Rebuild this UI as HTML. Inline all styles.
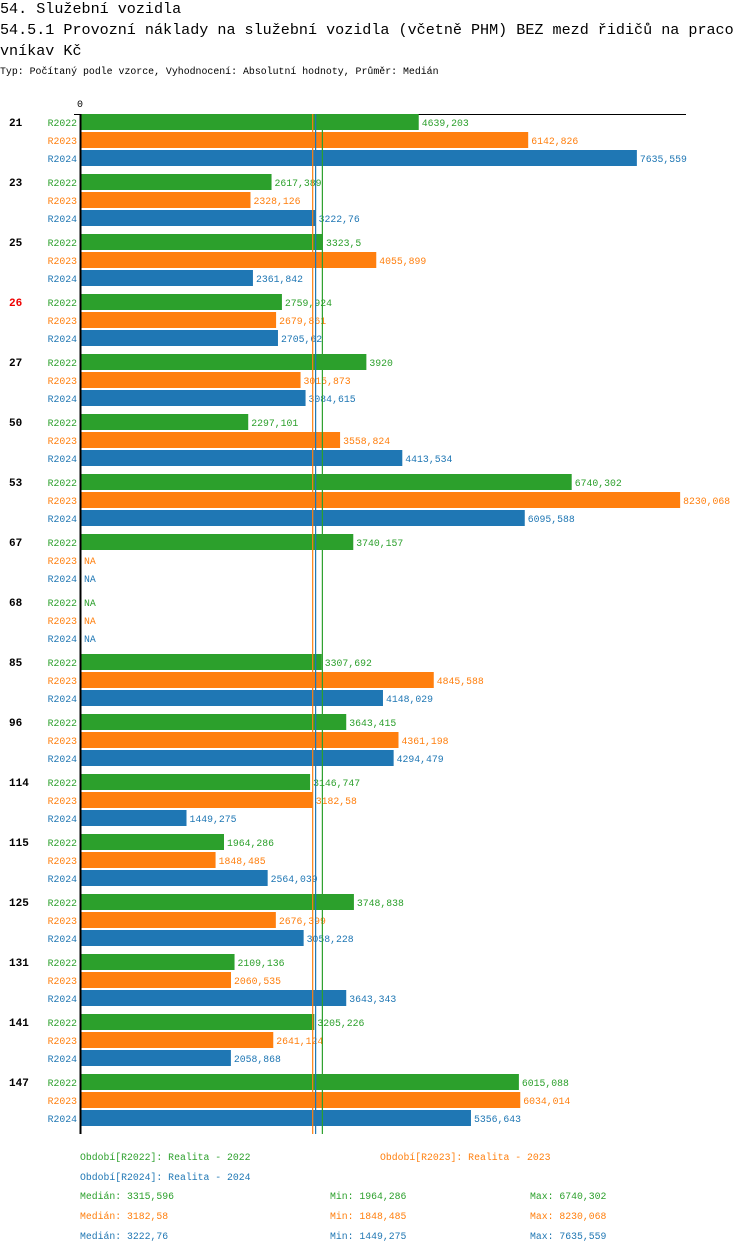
<!DOCTYPE html>
<html><head><meta charset="utf-8"><style>
body{margin:0;background:#fff;width:750px;height:1254px;overflow:hidden;font-family:"Liberation Mono",monospace}
.t{position:absolute;left:0;font-size:15.1px;white-space:nowrap;color:#000}
.s{position:absolute;left:0;top:66px;font-size:9.9px;white-space:nowrap}
svg text{font-family:"Liberation Mono",monospace}
</style></head><body>
<div class="t" style="top:0px">54. Služební vozidla</div>
<div class="t" style="top:21px">54.5.1 Provozní náklady na služební vozidla (včetně PHM) BEZ mezd řidičů na praco</div>
<div class="t" style="top:42px">vníkav Kč</div>
<div class="s">Typ: Počítaný podle vzorce, Vyhodnocení: Absolutní hodnoty, Průměr: Medián</div>
<svg id="c" width="750" height="1254" style="position:absolute;left:0;top:0"></svg>
<script>
const categories=["21","23","25","26","27","50","53","67","68","85","96","114","115","125","131","141","147"];
const r2022=[4639.203,2617.389,3323.5,2759.924,3920,2297.101,6740.302,3740.157,null,3307.692,3643.415,3146.747,1964.286,3748.838,2109.136,3205.226,6015.088];
const r2023=[6142.826,2328.126,4055.899,2679.861,3015.873,3558.824,8230.068,null,null,4845.588,4361.198,3182.58,1848.485,2676.399,2060.535,2641.124,6034.014];
const r2024=[7635.559,3222.76,2361.842,2705.62,3084.615,4413.534,6095.588,null,null,4148.029,4294.479,1449.275,2564.039,3058.228,3643.343,2058.868,5356.643];
const seriesNames=["R2022","R2023","R2024"];
const medians=[3315.596,3182.58,3222.76];
const mins=[1964.286,1848.485,1449.275];
const maxs=[6740.302,8230.068,7635.559];
const colors=["#2ca02c","#ff7f0e","#1f77b4"];
const series=[r2022,r2023,r2024];
const NS="http://www.w3.org/2000/svg";
const svg=document.getElementById('c');
const x=v=>81+v*0.0728;
const fmt=v=>String(v).replace('.',',');
function el(t,a,txt){const e=document.createElementNS(NS,t);for(const k in a)e.setAttribute(k,a[k]);if(txt!=null)e.textContent=txt;svg.appendChild(e);return e;}
let e;
e=el('text',{x:77,y:107,'font-size':10},'0');


e=el('line',{x1:74,y1:114.5,x2:686,y2:114.5,stroke:'#000'});


const gTop=114,gStep=60,yEnd=gTop+categories.length*gStep;
categories.forEach((c,i)=>{
  const gy=gTop+i*gStep;
  e=el('text',{x:9,y:gy+12,'font-size':11,'font-weight':'bold',fill:c==='26'?'#e00':'#000'},c);
  
  
  series.forEach((s,j)=>{
    const by=gy+j*18;
    e=el('text',{x:77,y:by+12,'font-size':9.8,'text-anchor':'end',fill:colors[j]},seriesNames[j]);
    
    
    const v=s[i];
    if(v!=null){
      e=el('rect',{x:81,y:by,width:x(v)-81,height:16,fill:colors[j]});
      
      
    }
    e=el('text',{x:(v!=null?x(v):81)+3,y:by+12,'font-size':9.8,fill:colors[j]},v!=null?fmt(v):'NA');
    
    
  });
});
[1,2,0].forEach(j=>{
  e=el('line',{x1:x(medians[j]),y1:gTop,x2:x(medians[j]),y2:yEnd,stroke:colors[j],'stroke-width':1.2});
  
  
});
e=el('line',{x1:80.5,y1:gTop,x2:80.5,y2:yEnd,stroke:'#000','stroke-width':2});


const L=[[80,1160,0,'Období[R2022]: Realita - 2022'],[380,1160,1,'Období[R2023]: Realita - 2023'],[80,1180,2,'Období[R2024]: Realita - 2024']];
L.forEach(l=>{e=el('text',{x:l[0],y:l[1],'font-size':9.8,fill:colors[l[2]]},l[3]);

});
[0,1,2].forEach(j=>{
  const y=1199+j*20;
  e=el('text',{x:80,y:y,'font-size':9.8,fill:colors[j]},'Medián: '+fmt(medians[j]));
  
  
  e=el('text',{x:330,y:y,'font-size':9.8,fill:colors[j]},'Min: '+fmt(mins[j]));
  
  
  e=el('text',{x:530,y:y,'font-size':9.8,fill:colors[j]},'Max: '+fmt(maxs[j]));
  
  
});
</script>
</body></html>
